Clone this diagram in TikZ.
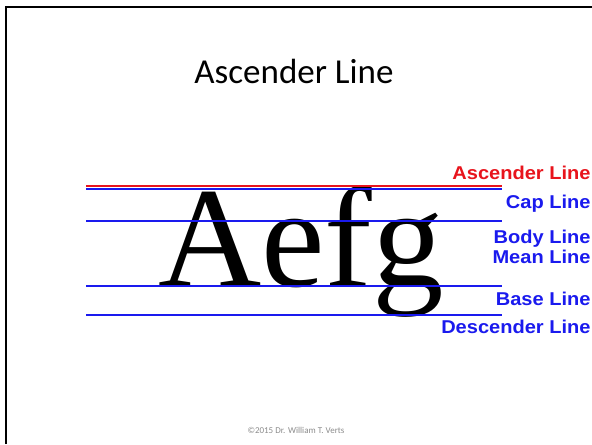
\documentclass[tikz,border=0pt]{standalone}
\usepackage{fontspec}
\setmainfont{Liberation Serif}
\newfontfamily\slidefont{Carlito}
\newfontfamily\labelfont{Liberation Sans}[FakeStretch=1.08]
\usetikzlibrary{positioning}
\definecolor{LineRed}{HTML}{E8141C}
\definecolor{LineBlue}{HTML}{1A1AEE}
\definecolor{FootGrey}{HTML}{8C8C8C}

\begin{document}
\begin{tikzpicture}[every node/.style={inner sep=0pt},linelabel/.style={font=\labelfont\bfseries\fontsize{13.2}{13.2}\selectfont,anchor=base east,text=LineBlue},guide/.style={line width=1.4pt,draw=LineBlue}]
\useasboundingbox (0,0) rectangle (14.8,11.1);
\fill[white] (0,0) rectangle (14.8,11.1);
\draw[line width=1.8pt] (0.15,0) -- (0.15,10.925) -- (14.8,10.925);

\node[font=\slidefont\fontsize{24.9}{24.9}\selectfont,anchor=base] (title) at (7.35,9.025) {Ascender Line};
\node[font=\rmfamily\fontsize{101.7}{101.7}\selectfont,anchor=base west] (word) at (3.95,3.95) {Aefg};

\coordinate (asc0) at (2.15,6.45); \coordinate (asc1) at (12.55,6.45);
\coordinate (cap0) at (2.15,6.375); \coordinate (cap1) at (12.55,6.375);
\coordinate (mean0) at (2.15,5.58); \coordinate (mean1) at (12.55,5.58);
\coordinate (base0) at (2.15,3.95); \coordinate (base1) at (12.55,3.95);
\coordinate (desc0) at (2.15,3.225); \coordinate (desc1) at (12.55,3.225);
\draw[guide,draw=LineRed] (asc0) -- (asc1); \draw[guide] (cap0) -- (cap1); \draw[guide] (mean0) -- (mean1); \draw[guide] (base0) -- (base1); \draw[guide] (desc0) -- (desc1);

\node[linelabel,text=LineRed] (ascl) at (14.77,6.625) {Ascender Line};
\node[linelabel] (capl) at (14.77,5.9) {Cap Line};
\node[linelabel] (bodyl) at (14.77,5.025) {Body Line};
\node[linelabel] (meanl) at (14.77,4.525) {Mean Line};
\node[linelabel] (basel) at (14.77,3.475) {Base Line};
\node[linelabel] (descl) at (14.77,2.775) {Descender Line};

\node[font=\slidefont\fontsize{6.4}{6.4}\selectfont,text=FootGrey,anchor=base] (foot) at (7.4,0.275) {\textcopyright2015 Dr. William T. Verts};
\end{tikzpicture}
\end{document}
